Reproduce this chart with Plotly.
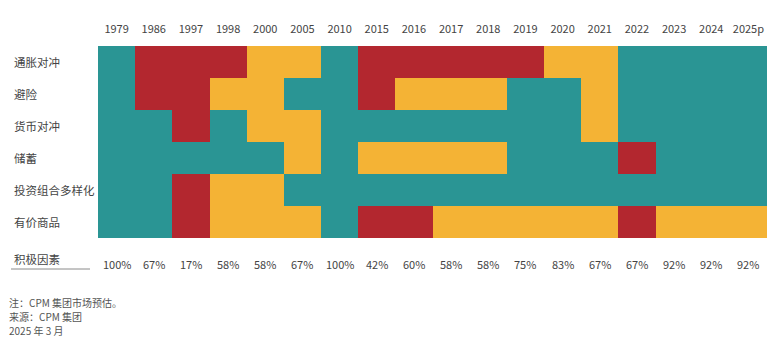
import plotly.graph_objects as go

years = ["1979", "1986", "1997", "1998", "2000", "2005", "2010", "2015", "2016",
         "2017", "2018", "2019", "2020", "2021", "2022", "2023", "2024", "2025p"]
factors = ["通胀对冲", "避险", "货币对冲", "储蓄", "投资组合多样化", "有价商品"]

# 2 = positive (teal), 1 = neutral (yellow), 0 = negative (red)
status = [
    [2, 0, 0, 0, 1, 1, 2, 0, 0, 0, 0, 0, 1, 1, 2, 2, 2, 2],  # 通胀对冲
    [2, 0, 0, 1, 1, 2, 2, 0, 1, 1, 1, 2, 2, 1, 2, 2, 2, 2],  # 避险
    [2, 2, 0, 2, 1, 1, 2, 2, 2, 2, 2, 2, 2, 1, 2, 2, 2, 2],  # 货币对冲
    [2, 2, 2, 2, 2, 1, 2, 1, 1, 1, 1, 2, 2, 2, 0, 2, 2, 2],  # 储蓄
    [2, 2, 0, 1, 1, 2, 2, 2, 2, 2, 2, 2, 2, 2, 2, 2, 2, 2],  # 投资组合多样化
    [2, 2, 0, 1, 1, 1, 2, 0, 0, 1, 1, 1, 1, 1, 0, 1, 1, 1],  # 有价商品
]
positive_share = ["100%", "67%", "17%", "58%", "58%", "67%", "100%", "42%", "60%",
                  "58%", "58%", "75%", "83%", "67%", "67%", "92%", "92%", "92%"]
summary_label = "积极因素"
notes = ["注：CPM 集团市场预估。", "来源：CPM 集团", "2025 年 3 月"]

RED = "#B3272F"
YEL = "#F4B335"
TEAL = "#2A9594"
FONT = "Noto Sans CJK SC"
TXT = "#444444"

W, H = 773, 353
ML, MR, MT, MB = 98, 6, 46, 115
PW, PH = W - ML - MR, H - MT - MB

fig = go.Figure(go.Heatmap(
    z=status, x=years, y=factors,
    zmin=0, zmax=2,
    colorscale=[[0, RED], [0.333, RED], [0.333, YEL], [0.667, YEL], [0.667, TEAL], [1, TEAL]],
    showscale=False, xgap=0, ygap=0, hoverinfo="skip",
))

fig.update_xaxes(side="top", type="category", showgrid=False, zeroline=False,
                 ticks="", tickfont=dict(family=FONT, size=11, color=TXT),
                 ticklabelstandoff=10, range=[-0.5, len(years) - 0.5])
fig.update_yaxes(type="category", autorange="reversed", showticklabels=False,
                 showgrid=False, zeroline=False)

ann = []
for i, f in enumerate(factors):
    ann.append(dict(xref="paper", yref="y", x=(12 - ML) / PW, y=i, text=f,
                    showarrow=False, xanchor="left", yanchor="middle",
                    font=dict(family=FONT, size=11.5, color=TXT)))
for i, p in enumerate(positive_share):
    ann.append(dict(xref="x", yref="paper", x=i, y=-(264 - (MT + PH)) / PH, text=p,
                    showarrow=False, xanchor="center", yanchor="middle",
                    font=dict(family=FONT, size=11, color=TXT)))
ann.append(dict(xref="paper", yref="paper", x=(12 - ML) / PW, y=-(259 - (MT + PH)) / PH,
                text=summary_label, showarrow=False, xanchor="left", yanchor="middle",
                font=dict(family=FONT, size=11.5, color=TXT)))
for i, n in enumerate(notes):
    ann.append(dict(xref="paper", yref="paper", x=(7 - ML) / PW,
                    y=-((302 + 14.3 * i) - (MT + PH)) / PH, text=n, showarrow=False,
                    xanchor="left", yanchor="middle",
                    font=dict(family=FONT, size=10, color="#555555")))

shapes = [dict(type="line", xref="paper", yref="paper",
               x0=(11 - ML) / PW, x1=(90 - ML) / PW,
               y0=-(269 - (MT + PH)) / PH, y1=-(269 - (MT + PH)) / PH,
               line=dict(color="#8a8a8a", width=1))]

fig.update_layout(width=W, height=H, margin=dict(l=ML, r=MR, t=MT, b=MB),
                  paper_bgcolor="white", plot_bgcolor="white",
                  annotations=ann, shapes=shapes, showlegend=False)

fig.write_html("out.html")
